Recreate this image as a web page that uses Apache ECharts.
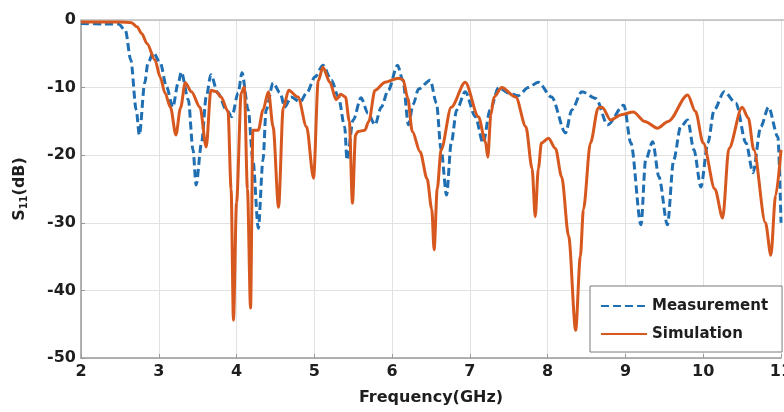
<!DOCTYPE html>
<html>
<head>
<meta charset="utf-8">
<script src="https://cdn.jsdelivr.net/npm/echarts@6/dist/echarts.min.js"></script>
<style>html,body{margin:0;padding:0;background:#fff}#c{width:784px;height:412px}</style>
</head>
<body>
<div id="c"></div>
<script>
var xTicks = [2, 3, 4, 5, 6, 7, 8, 9, 10, 11];
var yTicks = [0, -10, -20, -30, -40, -50];

var measFreq = [2.0,2.3,2.48,2.57,2.64,2.71,2.75,2.82,2.86,2.93,3.02,3.1,3.18,3.25,3.29,3.38,3.44,3.48,3.55,3.61,3.67,3.76,3.87,3.94,4.02,4.07,4.15,4.21,4.28,4.34,4.38,4.47,4.56,4.62,4.7,4.82,4.9,5.01,5.11,5.22,5.31,5.39,5.42,5.5,5.6,5.69,5.78,5.86,5.95,6.07,6.14,6.21,6.27,6.34,6.49,6.57,6.63,6.7,6.76,6.83,6.94,7.07,7.17,7.26,7.37,7.5,7.62,7.75,7.88,8.05,8.23,8.31,8.44,8.62,8.77,8.98,9.07,9.2,9.26,9.35,9.43,9.54,9.62,9.71,9.8,9.88,9.97,10.06,10.14,10.27,10.42,10.55,10.64,10.74,10.84,10.96,11.0];
var measS11 = [-0.5,-0.6,-0.6,-1.5,-5.9,-13.3,-17,-9.3,-6.4,-4.8,-6.4,-9.9,-12.9,-9.3,-7.7,-11.8,-19.2,-24.4,-18.2,-11.4,-8.1,-10.8,-13.3,-14.3,-10.8,-7.8,-13.3,-20.7,-30.8,-20.7,-13.3,-9.3,-10.8,-12.9,-11.4,-12.1,-10.8,-8.4,-6.7,-8.9,-11.4,-15.8,-20.7,-14.8,-11.5,-13.8,-15.5,-12.9,-10.4,-6.7,-9,-15.5,-12.5,-10.2,-8.9,-12.3,-19.2,-25.9,-18.2,-13.3,-10.6,-14.3,-18.2,-13.3,-10,-10.8,-11.2,-10,-9.2,-11.4,-16.7,-13.3,-10.6,-11.6,-15.5,-12.6,-18.2,-30.3,-20.7,-18,-23.2,-30.3,-20.7,-15.8,-14.8,-19.2,-24.7,-18.2,-13.3,-10.6,-12.3,-18.2,-22.6,-15.8,-12.9,-17.3,-30];

var simFreq = [2.0,2.5,2.65,2.72,2.78,2.85,2.95,3.02,3.08,3.15,3.22,3.28,3.34,3.42,3.53,3.61,3.67,3.74,3.8,3.89,3.93,3.96,4.0,4.06,4.1,4.14,4.18,4.21,4.28,4.34,4.41,4.47,4.54,4.6,4.67,4.79,4.9,4.99,5.05,5.11,5.2,5.28,5.34,5.4,5.45,5.49,5.53,5.56,5.65,5.7,5.78,5.91,6.08,6.14,6.2,6.26,6.36,6.45,6.51,6.54,6.58,6.63,6.76,6.94,7.11,7.2,7.23,7.27,7.31,7.41,7.59,7.72,7.8,7.84,7.88,7.92,8.01,8.1,8.18,8.27,8.36,8.42,8.46,8.55,8.65,8.7,8.81,8.95,9.1,9.25,9.41,9.55,9.8,9.9,10.0,10.15,10.25,10.33,10.5,10.58,10.65,10.8,10.87,10.93,11.0];
var simS11 = [-0.3,-0.3,-0.4,-1,-2,-3.5,-5.9,-8.5,-10.8,-12.9,-17,-13,-9.3,-10.6,-12.9,-18.8,-10.4,-10.6,-11.4,-13.5,-25,-44.4,-27,-10.8,-9.9,-25,-42.6,-16.3,-16.3,-13.3,-10.6,-15.8,-27.7,-13,-10.4,-11.4,-15.8,-23.4,-9,-7,-9.2,-11.8,-11,-11.4,-15,-27.1,-17,-16.5,-16.3,-15,-10.4,-9.2,-8.6,-8.8,-11.5,-16.5,-19.5,-23.5,-28,-34,-25,-19.2,-12.9,-9.2,-14.3,-18,-20.3,-14,-11.4,-10,-11.4,-15.8,-22,-29.1,-22,-18.2,-17.5,-19,-23.2,-32,-45.9,-35,-28,-18.2,-13,-12.9,-14.8,-14,-13.6,-15,-16,-15,-11.1,-13.5,-18.2,-25,-29.3,-19,-12.9,-14.5,-19.2,-30,-34.8,-26,-19.2];

function pairs(xs, ys) { return xs.map(function (x, i) { return [x, ys[i]]; }); }

var FONT = 'DejaVu Sans';
var chart = echarts.init(document.getElementById('c'), null, { renderer: 'canvas' });
chart.setOption({
  animation: false,
  backgroundColor: '#ffffff',
  grid: { left: 81, top: 20, right: 3, bottom: 54, containLabel: false, outerBoundsMode: 'none' },
  legend: {
    orient: 'vertical',
    left: 590,
    top: 286,
    padding: [12, 14, 10, 10],
    itemGap: 12,
    itemWidth: 46,
    itemHeight: 20,
    backgroundColor: '#ffffff',
    borderColor: '#7a7a7a',
    borderWidth: 1,
    borderRadius: 0,
    itemStyle: { opacity: 0 },
    textStyle: { fontFamily: FONT, fontWeight: 'bold', fontSize: 15, color: '#1e1e1e' },
    data: ['Measurement', 'Simulation']
  },
  xAxis: {
    type: 'value',
    min: xTicks[0],
    max: xTicks[xTicks.length - 1],
    interval: 1,
    name: 'Frequency(GHz)',
    nameLocation: 'middle',
    nameGap: 32,
    nameTextStyle: { fontFamily: FONT, fontWeight: 'bold', fontSize: 16, color: '#1e1e1e' },
    axisLine: { onZero: false, lineStyle: { color: '#9a9a9a', width: 1.5 } },
    axisTick: { inside: true, length: 4, lineStyle: { color: '#9a9a9a' } },
    axisLabel: { fontFamily: FONT, fontWeight: 'bold', fontSize: 16, color: '#1e1e1e', margin: 6 },
    splitLine: { show: true, lineStyle: { color: '#e2e2e2', width: 1 } }
  },
  yAxis: {
    type: 'value',
    min: yTicks[yTicks.length - 1],
    max: yTicks[0],
    interval: 10,
    name: '{m|S}{s|11}{m|(dB)}',
    nameLocation: 'middle',
    nameRotate: 90,
    nameGap: 52,
    nameTextStyle: {
      rich: {
        m: { fontFamily: FONT, fontWeight: 'bold', fontSize: 16, color: '#1e1e1e' },
        s: { fontFamily: FONT, fontWeight: 'bold', fontSize: 10, color: '#1e1e1e', verticalAlign: 'bottom', padding: [8, 0, 0, 0] }
      }
    },
    axisLine: { show: true, onZero: false, lineStyle: { color: '#9a9a9a', width: 1.5 } },
    axisTick: { show: true, inside: true, length: 4, lineStyle: { color: '#9a9a9a' } },
    axisLabel: { fontFamily: FONT, fontWeight: 'bold', fontSize: 16, color: '#1e1e1e', margin: 5 },
    splitLine: { show: true, lineStyle: { color: '#e2e2e2', width: 1 } }
  },
  series: [
    {
      name: 'Measurement',
      type: 'line',
      data: pairs(measFreq, measS11),
      showSymbol: false,
      symbol: 'none',
      smooth: 0.3,
      smoothMonotone: 'x',
      color: '#1f6fb2',
      lineStyle: { color: '#1f6fb2', width: 3, type: [8, 4] },
      z: 2
    },
    {
      name: 'Simulation',
      type: 'line',
      data: pairs(simFreq, simS11),
      showSymbol: false,
      symbol: 'none',
      smooth: 0.3,
      smoothMonotone: 'x',
      color: '#d7581f',
      lineStyle: { color: '#d7581f', width: 3 },
      z: 3
    }
  ],
  graphic: [
    { type: 'line', shape: { x1: 81, y1: 20, x2: 784, y2: 20 }, style: { stroke: '#bdbdbd', lineWidth: 1.5 }, z: 1 }
  ]
});
</script>
</body>
</html>
